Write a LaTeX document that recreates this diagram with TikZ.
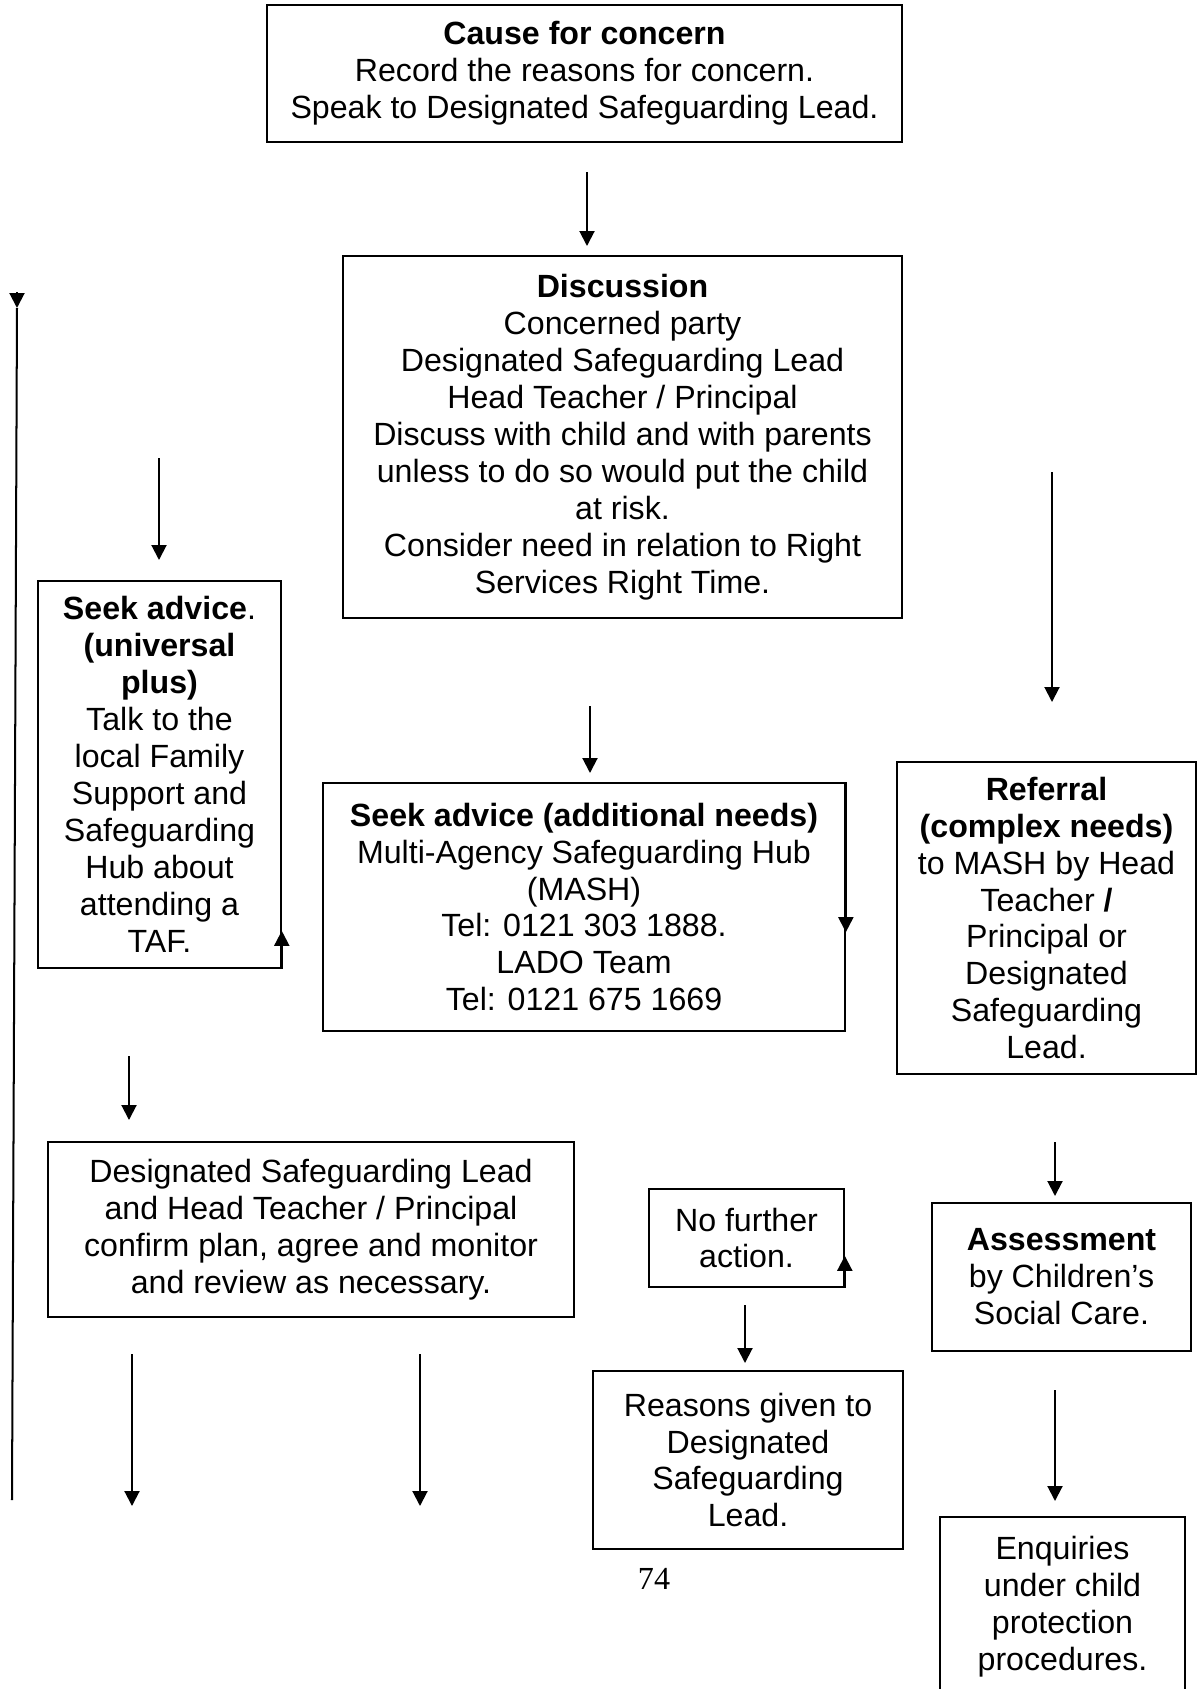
\documentclass[tikz,border=0pt]{standalone}
\usepackage{fontspec}
\setmainfont{Liberation Sans}
\newfontfamily\pagenumfont{Liberation Serif}
\usetikzlibrary{arrows.meta}
\tikzset{
	box/.style={draw,line width=0.6pt,inner sep=0pt,align=center,font=\fontsize{12}{13.8}\selectfont},
	arr/.style={line width=0.75pt,-{Triangle[width=5.6pt,length=5.6pt]}}
}
\begin{document}
\begin{tikzpicture}[x=0.3733pt,y=-0.3733pt]
	\useasboundingbox (0,0) rectangle (1198,1689);
	% boxes
	\node[box,minimum width=237pt,minimum height=51.1pt] (cause) at (584.5,73.5) {\textbf{Cause for concern}\\Record the reasons for concern.\\Speak to Designated Safeguarding Lead.};
	\node[box,minimum width=208.7pt,minimum height=135.1pt] (disc) at (622.5,437) {\textbf{Discussion}\\Concerned party\\Designated Safeguarding Lead\\Head Teacher / Principal\\Discuss with child and with parents\\unless to do so would put the child\\at risk.\\Consider need in relation to Right\\Services Right Time.};
	\node[box,minimum width=90.7pt,minimum height=144.5pt] (univ) at (159.5,774.5) {\textbf{Seek advice}.\\\textbf{(universal}\\\textbf{plus)}\\Talk to the\\local Family\\Support and\\Safeguarding\\Hub about\\attending a\\TAF.};
	\node[box,minimum width=194.9pt,minimum height=92.6pt] (mash) at (584,907) {\textbf{Seek advice (additional needs)}\\Multi-Agency Safeguarding Hub\\(MASH)\\Tel: 0121 303 1888.\\LADO Team\\Tel: 0121 675 1669};
	\node[box,minimum width=111.6pt,minimum height=116.5pt] (refer) at (1046.5,918) {\textbf{Referral}\\\textbf{(complex needs)}\\to MASH by Head\\Teacher \textbf{/}\\Principal or\\Designated\\Safeguarding\\Lead.};
	\node[box,minimum width=196.4pt,minimum height=65.3pt] (dsl) at (311,1229.5) {Designated Safeguarding Lead\\and Head Teacher / Principal\\confirm plan, agree and monitor\\and review as necessary.};
	\node[box,minimum width=72.8pt,minimum height=36.6pt] (nfa) at (746.5,1238) {No further\\action.};
	\node[box,minimum width=115.7pt,minimum height=66.4pt] (reasons) at (748,1460) {Reasons given to\\Designated\\Safeguarding\\Lead.};
	\node[box,minimum width=96.7pt,minimum height=55.2pt] (assess) at (1061.5,1277) {\textbf{Assessment}\\by Children’s\\Social Care.};
	\node[box,minimum width=91.5pt,minimum height=66.8pt] (enq) at (1062.5,1606.5) {Enquiries\\under child\\protection\\procedures.};
	\node[font=\pagenumfont\fontsize{12}{13.8}\selectfont] (pagenum) at (654,1579) {74};
	% free standing arrows
	\foreach \n/\x/\ya/\yb in {a/587/172/246,b/159/458/560,c/590/706/773,d/1052/472/702,e/129/1056/1120,f/132/1354/1506,g/420/1354/1506,h/745/1305/1363,i/1055/1142/1196,j/1055/1390/1501}{
		\coordinate (\n top) at (\x,\ya);
		\coordinate (\n end) at (\x,\yb);
		\draw[arr] (\n top) -- (\n end);
	}
	% arrows on box edges
	\draw[arr] (univ.south east) -- ++(0,-38);
	\draw[arr] (mash.north east) -- ++(0,150);
	\draw[arr] (nfa.south east) -- ++(0,-32);
	% long line on the left
	\coordinate (backbot) at (12,1500);
	\coordinate (backtop) at (17,308);
	\draw[line width=0.75pt] (backbot) -- (backtop);
	\path (backtop) ++(0,-16) coordinate (backhead);
	\draw[arr] (backhead) -- (backtop);
\end{tikzpicture}
\end{document}
